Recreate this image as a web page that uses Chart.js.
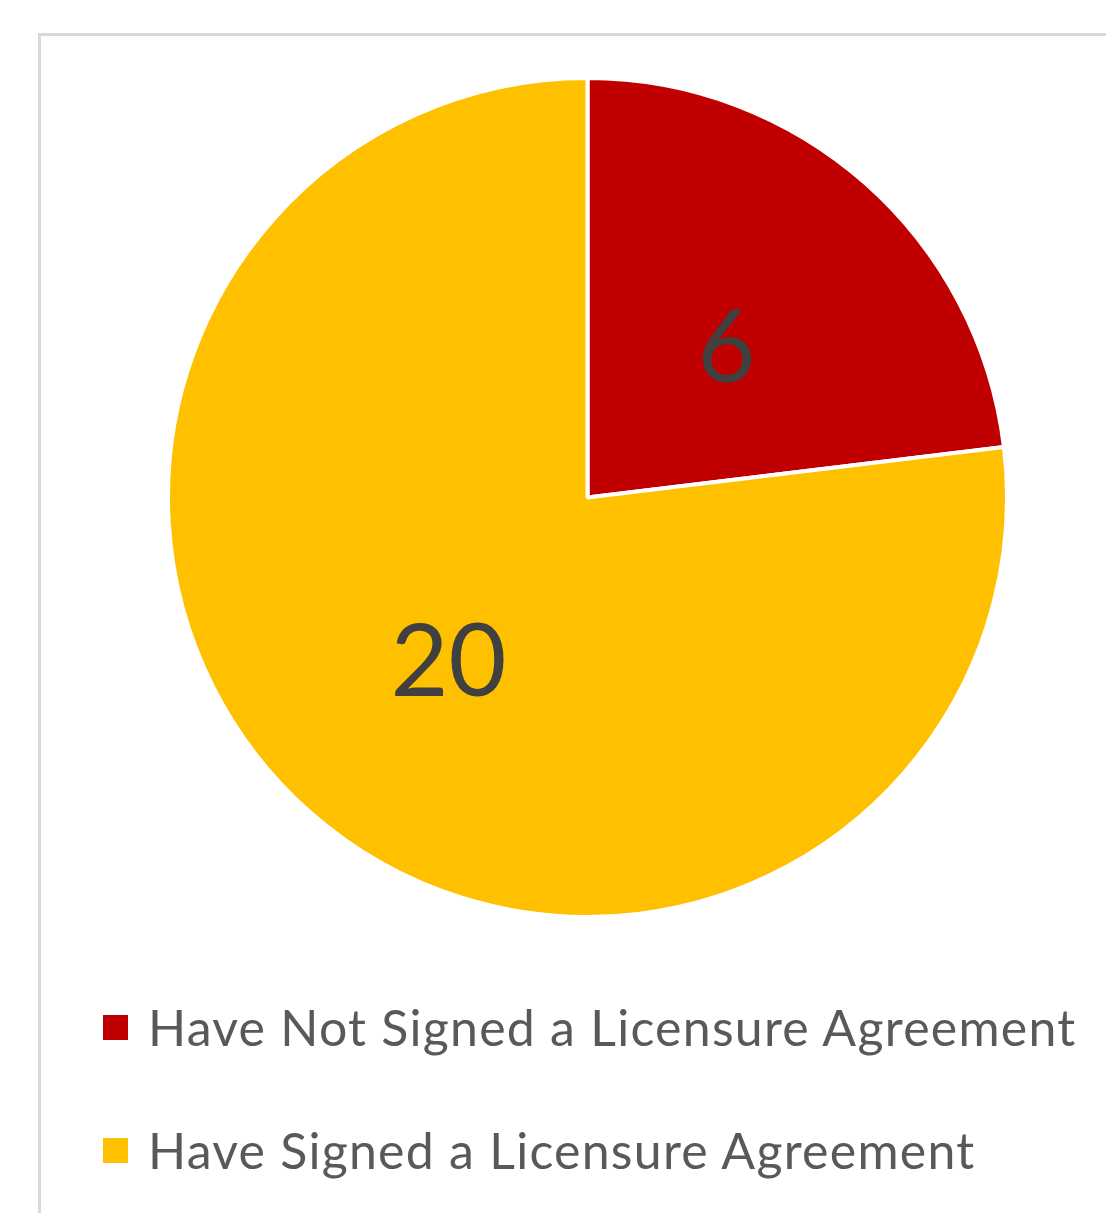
<!DOCTYPE html>
<html>
<head>
<meta charset="utf-8">
<script src="https://cdn.jsdelivr.net/npm/chart.js@4"></script>
<style>
    html, body { margin: 0; padding: 0; background: #fff; overflow: hidden; }
    body { width: 1106px; height: 1213px; position: relative; }
    #frame {
        position: absolute; left: 38px; top: 33px; width: 1200px; height: 1300px;
        border-left: 3px solid #d9d9d9; border-top: 3px solid #d9d9d9;
    }
    #pie-wrap { position: absolute; left: 166px; top: 76px; width: 843px; height: 843px; }
    #legend { position: absolute; left: 103px; top: 0; font-family: Lato, sans-serif; font-size: 50px; letter-spacing: 1.25px; color: #595959; }
    .item { position: absolute; left: 0; white-space: nowrap; display: flex; align-items: center; height: 60px; }
    .box { width: 25px; height: 25px; margin-right: 20px; }
</style>
</head>
<body>
<div id="frame"></div>
<div id="pie-wrap"><canvas id="piechart"></canvas></div>
<div id="legend"></div>
<script>
const labels = ["Have Not Signed a Licensure Agreement", "Have Signed a Licensure Agreement"];
const values = [6, 20];
const colors = ['#c00000', '#ffc000']; // merah, emas

// label angka di tengah irisan
const sliceLabels = {
    id: 'sliceLabels',
    afterDatasetsDraw(chart) {
        const ctx = chart.ctx;
        const meta = chart.getDatasetMeta(0);
        ctx.save();
        ctx.fillStyle = '#404040';
        ctx.font = '100px Lato, sans-serif';
        ctx.textAlign = 'center';
        ctx.textBaseline = 'middle';
        meta.data.forEach((arc, i) => {
            const p = arc.getCenterPoint();
            ctx.fillText(String(values[i]), p.x, p.y + 9);
        });
        ctx.restore();
    }
};

new Chart(document.getElementById('piechart').getContext('2d'), {
    type: 'pie',
    data: {
        labels: labels,
        datasets: [{
            data: values,
            backgroundColor: colors,
            borderColor: '#ffffff',
            borderWidth: 4
        }]
    },
    options: {
        responsive: true,
        maintainAspectRatio: false,
        animation: false,
        layout: { padding: 0 },
        plugins: {
            legend: { display: false },
            tooltip: { enabled: false }
        }
    },
    plugins: [sliceLabels]
});

// legenda HTML
const legend = document.getElementById('legend');
const rowTops = [997, 1120];
labels.forEach((name, i) => {
    const item = document.createElement('div');
    item.className = 'item';
    item.style.top = rowTops[i] + 'px';
    item.innerHTML = '<span class="box" style="background:' + colors[i] + '"></span><span>' + name + '</span>';
    legend.appendChild(item);
});
</script>
</body>
</html>
